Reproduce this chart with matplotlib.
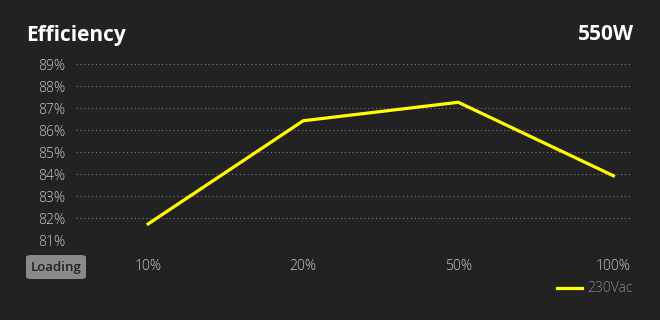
import matplotlib
matplotlib.use('Agg')
import matplotlib.pyplot as plt
from matplotlib.patches import FancyBboxPatch

# data
loads = ['10%', '20%', '50%', '100%']
eff_230 = [81.73, 86.42, 87.26, 83.92]
y_ticks = [81, 82, 83, 84, 85, 86, 87, 88, 89]
y_labels = [str(v) + '%' for v in y_ticks]

bg = '#222222'
fig = plt.figure(figsize=(6.6, 3.2), dpi=100, facecolor=bg)
ax = fig.add_axes([76/660, 1 - 240/320, (632 - 76)/660, (240 - 64)/320])
ax.set_facecolor(bg)

xs = list(range(len(loads)))
ax.plot(xs, eff_230, color='#ffff00', lw=2.3, solid_joinstyle='miter', label='230Vac', zorder=3)

ax.set_xlim(-0.465, 3.12)
ax.set_ylim(81, 89)
ax.set_yticks(y_ticks)
ax.set_yticklabels(y_labels)
ax.set_xticks(xs)
ax.set_xticklabels(loads)
for s in ax.spines.values():
    s.set_visible(False)
ax.tick_params(axis='both', length=0, colors='#c8c8c8', labelsize=10)
ax.tick_params(axis='y', pad=8)
ax.tick_params(axis='x', pad=14)
for lab in ax.get_xticklabels() + ax.get_yticklabels():
    lab.set_family('Open Sans')
    lab.set_fontweight('light')
ax.yaxis.grid(True, color='#7a7a7a', lw=0.8, linestyle=(0, (1, 2.5)))
ax.set_axisbelow(True)

fig.text(26/660, 1 - 35/320, 'Efficiency', color='white', fontsize=15,
         fontweight='bold', family='Open Sans', va='center', ha='left')
fig.text(634/660, 1 - 35/320, '550W', color='white', fontsize=15,
         fontweight='bold', family='Open Sans', va='center', ha='right')

# "Loading" badge
badge = FancyBboxPatch((26/660, 1 - 279/320), 60/660, 24/320,
                       boxstyle='round,pad=0,rounding_size=0.008',
                       transform=fig.transFigure, facecolor='#8a8a8a',
                       edgecolor='none')
fig.patches.append(badge)
fig.text(56/660, 1 - 268/320, 'Loading', color='#222222', fontsize=9.5,
         fontweight='semibold', family='Open Sans', va='center', ha='center')

leg = ax.legend(loc='center right', bbox_to_anchor=(645/660, 1 - 289/320),
                bbox_transform=fig.transFigure, frameon=False,
                handlelength=1.8, handletextpad=0.4,
                prop={'family': 'Open Sans', 'weight': 'light', 'size': 10})
for t in leg.get_texts():
    t.set_color('#8a8a8a')

fig.savefig('out.png', dpi=100, facecolor=bg)
